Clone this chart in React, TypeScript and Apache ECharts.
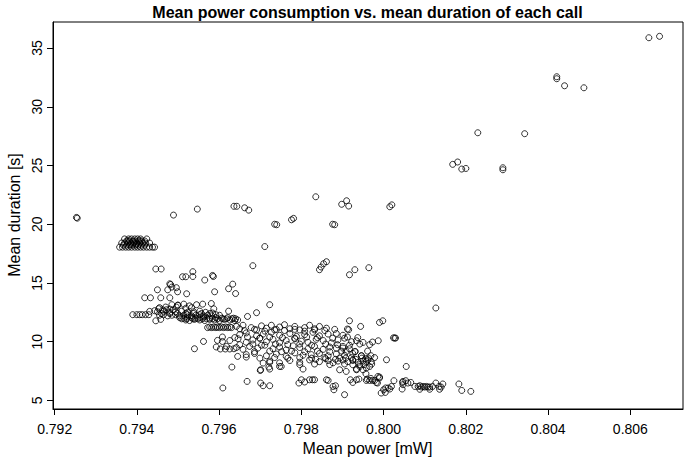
import React, { useEffect, useRef } from "react";
import * as echarts from "echarts";

type P = [number, number];

const xTicks = [0.792, 0.794, 0.796, 0.798, 0.8, 0.802, 0.804, 0.806];
const yTicks = [5, 10, 15, 20, 25, 30, 35];

const outliers: P[] = [
  [0.79253, 20.58], [0.79255, 20.52], [0.79489, 20.78], [0.79547, 21.29],
  [0.79636, 21.53], [0.79643, 21.53], [0.79662, 21.4], [0.79672, 21.2],
  [0.79735, 20.0], [0.7974, 19.96], [0.79776, 20.38], [0.79781, 20.5],
  [0.79835, 22.34], [0.79876, 20.0], [0.79881, 19.96],
  [0.79898, 21.7], [0.7991, 22.0], [0.79915, 21.55],
  [0.80015, 21.49], [0.8002, 21.65],
  [0.79682, 16.47], [0.79711, 18.1], [0.79723, 13.15],
  [0.79844, 16.13], [0.79848, 16.36], [0.79854, 16.64], [0.79861, 16.81],
  [0.79917, 15.7], [0.7993, 16.13], [0.79964, 16.3], [0.80127, 12.87],
];

const rightTail: P[] = [
  [0.80168, 25.1], [0.8018, 25.3], [0.8019, 24.7], [0.802, 24.75],
  [0.80229, 27.79], [0.8029, 24.81], [0.8029, 24.64], [0.80343, 27.71],
  [0.80421, 32.56], [0.80421, 32.39], [0.8044, 31.79], [0.80487, 31.62],
  [0.80645, 35.88], [0.80671, 36.0],
];

const cluster18: P[] = [
  [0.79358, 18.05], [0.79365, 18.05], [0.79373, 18.05], [0.7938, 18.05], [0.79387, 18.05],
  [0.79395, 18.05], [0.79402, 18.05], [0.79409, 18.05], [0.79416, 18.05], [0.79424, 18.05],
  [0.79431, 18.05], [0.79438, 18.05], [0.79443, 18.05],
  [0.79363, 18.4], [0.7937, 18.4], [0.79378, 18.4], [0.79385, 18.4], [0.79392, 18.4],
  [0.79399, 18.4], [0.79407, 18.4], [0.79414, 18.4], [0.79421, 18.4], [0.79431, 18.4],
  [0.7937, 18.75], [0.7938, 18.75], [0.79387, 18.75], [0.79395, 18.75], [0.79402, 18.75],
  [0.79409, 18.75], [0.79424, 18.75],
  [0.79385, 18.25], [0.79392, 18.55], [0.79399, 18.3], [0.79407, 18.6], [0.79378, 18.6],
  [0.79367, 18.22], [0.79375, 18.22], [0.79382, 18.22], [0.7939, 18.22], [0.79397, 18.22],
  [0.79404, 18.22], [0.79411, 18.22], [0.79419, 18.22],
  [0.79375, 18.58], [0.79382, 18.58], [0.7939, 18.58], [0.79397, 18.58], [0.79404, 18.58],
  [0.79412, 18.58], [0.79419, 18.58],
];

const leftScatter: P[] = [
  [0.79446, 16.19], [0.79459, 16.19], [0.79536, 15.96], [0.79536, 15.55],
  [0.79511, 15.53], [0.79519, 15.53], [0.79584, 15.64], [0.79586, 15.55],
  [0.79565, 15.25], [0.79633, 14.9], [0.79623, 14.51], [0.7964, 14.1],
  [0.79589, 14.25], [0.7948, 14.93], [0.79482, 14.87], [0.7945, 14.42],
  [0.79475, 14.42], [0.79485, 14.65], [0.79496, 14.6], [0.79499, 14.25],
  [0.79521, 14.08],
  [0.79419, 13.74], [0.79433, 13.74], [0.79458, 13.74], [0.7948, 13.74],
  [0.79443, 12.64],
  [0.7939, 12.3], [0.794, 12.3], [0.79407, 12.3], [0.79413, 12.3], [0.79421, 12.3], [0.79429, 12.3],
  [0.79463, 12.72], [0.79472, 12.72], [0.7948, 12.78], [0.79488, 12.72], [0.79496, 12.95], [0.795, 13.12],
  [0.79431, 12.58], [0.79453, 12.81], [0.79446, 11.78], [0.79458, 11.9],
];

const leftBand: P[] = [
  [0.79485, 13.15], [0.79499, 13.1], [0.79514, 13.2], [0.79528, 13.05], [0.79545, 13.15], [0.7956, 13.2], [0.79581, 13.25],
  [0.79455, 12.9], [0.7947, 12.95], [0.79519, 12.85], [0.79533, 12.9], [0.79587, 12.8],
  [0.7945, 12.55], [0.79465, 12.6], [0.7948, 12.5], [0.79494, 12.55], [0.79509, 12.6],
  [0.79523, 12.5], [0.79538, 12.55], [0.79553, 12.6], [0.79567, 12.5], [0.79623, 12.6],
  [0.7946, 12.4], [0.7948, 12.4], [0.79499, 12.4], [0.79519, 12.4], [0.79538, 12.4], [0.79557, 12.4], [0.79577, 12.4],
  [0.79455, 12.25], [0.79465, 12.3], [0.79475, 12.2], [0.79485, 12.25], [0.79494, 12.3],
  [0.79504, 12.2], [0.79514, 12.25], [0.79523, 12.3], [0.79533, 12.2], [0.79543, 12.25],
  [0.79553, 12.3], [0.79562, 12.2], [0.79572, 12.25], [0.79582, 12.2], [0.79592, 12.3], [0.79601, 12.25],
  [0.79504, 12.05], [0.79514, 12.0], [0.79523, 12.1], [0.79533, 12.05], [0.79543, 12.0], [0.79553, 12.05],
  [0.79562, 12.1], [0.79577, 12.0], [0.79592, 12.05], [0.79606, 12.0], [0.79621, 12.05], [0.79635, 12.0],
  [0.79509, 11.95], [0.79521, 11.95], [0.79536, 11.95], [0.79548, 11.95], [0.7956, 11.95], [0.7957, 11.95],
  [0.79584, 11.95], [0.79596, 11.95], [0.79609, 11.95], [0.79618, 11.95], [0.79631, 11.95], [0.7964, 11.95],
  [0.79519, 11.85], [0.79528, 11.8], [0.7954, 11.9], [0.79553, 11.85], [0.79565, 11.8], [0.79577, 11.9],
  [0.79589, 11.85], [0.79601, 11.8], [0.79613, 11.9], [0.79626, 11.85], [0.79638, 11.8], [0.79645, 11.85],
  [0.79572, 11.2], [0.79582, 11.2], [0.79592, 11.2], [0.79601, 11.2], [0.79611, 11.2], [0.79621, 11.2], [0.7963, 11.2],
  [0.79577, 11.25], [0.79587, 11.25], [0.79596, 11.25], [0.79606, 11.25], [0.79616, 11.25], [0.79626, 11.25],
  [0.79669, 12.15], [0.79584, 12.44], [0.79691, 12.47],
];

const core: P[] = [
  [0.79642, 11.3], [0.7965, 11.1], [0.79658, 11.4], [0.79678, 11.2], [0.79691, 11.0], [0.79703, 11.35],
  [0.79715, 11.15], [0.79727, 11.4], [0.79739, 11.05], [0.79747, 11.25], [0.79759, 11.45], [0.79772, 11.1],
  [0.79784, 11.3], [0.79796, 11.0], [0.79808, 11.2], [0.7982, 11.4], [0.79832, 11.1], [0.79844, 11.3], [0.79861, 11.15],
  [0.79662, 10.95], [0.79686, 11.05], [0.79711, 10.9], [0.79735, 11.0], [0.79759, 10.95], [0.79784, 11.05],
  [0.79808, 10.9], [0.79832, 11.0], [0.79857, 10.95], [0.79881, 11.05],
  [0.7965, 10.6], [0.79666, 10.75], [0.79691, 10.5], [0.79707, 10.65], [0.79727, 10.8], [0.79747, 10.55],
  [0.79772, 10.7], [0.79788, 10.45], [0.79808, 10.6], [0.79828, 10.8], [0.79844, 10.5], [0.79865, 10.65],
  [0.79885, 10.7], [0.79901, 10.55],
  [0.79638, 10.35], [0.79669, 10.4], [0.79699, 10.3], [0.79723, 10.4], [0.79754, 10.35], [0.79784, 10.3],
  [0.79813, 10.4], [0.79839, 10.35], [0.79876, 10.3], [0.79912, 10.4], [0.79937, 10.35],
  [0.79626, 10.1], [0.79646, 10.25], [0.79666, 9.95], [0.79682, 10.15], [0.79699, 10.3], [0.79715, 10.0],
  [0.79731, 10.2], [0.79747, 9.9], [0.79763, 10.1], [0.79784, 10.25], [0.798, 10.05], [0.79816, 9.95],
  [0.79836, 10.2], [0.79853, 10.1], [0.79873, 9.9], [0.79889, 10.15], [0.79905, 10.3], [0.79922, 10.0],
  [0.7965, 9.75], [0.79682, 9.8], [0.79703, 9.7], [0.79737, 9.8], [0.79767, 9.75], [0.79796, 9.8],
  [0.79825, 9.7], [0.79859, 9.8], [0.79888, 9.75], [0.79917, 9.7], [0.79942, 9.8], [0.79966, 9.75],
  [0.79642, 9.5], [0.79658, 9.35], [0.79674, 9.6], [0.79694, 9.45], [0.79711, 9.7], [0.79731, 9.4],
  [0.79747, 9.55], [0.79763, 9.3], [0.7978, 9.65], [0.79796, 9.5], [0.79816, 9.4], [0.79832, 9.6],
  [0.79853, 9.35], [0.79869, 9.55], [0.79885, 9.45], [0.79901, 9.6], [0.79917, 9.4],
  [0.79686, 9.15], [0.79723, 9.2], [0.79752, 9.15], [0.79776, 9.2], [0.79808, 9.15], [0.79839, 9.2],
  [0.79869, 9.15], [0.79898, 9.2], [0.7993, 9.15], [0.79961, 9.2],
  [0.79666, 8.9], [0.79686, 9.0], [0.79715, 8.8], [0.79739, 8.95], [0.79763, 8.75], [0.79784, 9.05],
  [0.79804, 8.85], [0.79824, 8.9], [0.79844, 9.0], [0.79865, 8.8], [0.79885, 8.95], [0.79905, 8.85],
  [0.79925, 9.0], [0.79946, 8.8],
  [0.79699, 8.6], [0.79735, 8.65], [0.79767, 8.6], [0.79796, 8.65], [0.79825, 8.6], [0.79857, 8.65],
  [0.79893, 8.6], [0.79922, 8.65], [0.79947, 8.6], [0.79978, 8.65],
  [0.79723, 8.35], [0.79747, 8.2], [0.79772, 8.4], [0.79796, 8.25], [0.7982, 8.45], [0.79844, 8.3],
  [0.79865, 8.4], [0.79877, 8.2], [0.79889, 8.35], [0.79901, 8.45], [0.79913, 8.3], [0.79925, 8.4],
  [0.79938, 8.25], [0.7995, 8.35], [0.79962, 8.45], [0.7997, 8.3],
  [0.79835, 8.5], [0.79859, 8.55], [0.79883, 8.5], [0.79908, 8.6], [0.79932, 8.5], [0.79956, 8.55],
  [0.79796, 8.05], [0.79832, 8.1], [0.79869, 8.05], [0.79905, 8.1], [0.79942, 8.05], [0.79971, 8.1],
];

const coreEdges: P[] = [
  [0.79751, 7.89], [0.79804, 7.67], [0.79893, 7.61], [0.79909, 7.47], [0.79934, 7.61], [0.79925, 8.04],
  [0.79942, 7.89], [0.79958, 8.32], [0.79958, 7.76], [0.7995, 7.61], [0.79969, 8.81], [0.79957, 7.27],
  [0.79969, 6.87], [0.79986, 7.04], [0.7999, 6.99], [0.797, 7.55], [0.79721, 7.84], [0.79631, 7.84],
  [0.79645, 8.75], [0.79666, 8.69], [0.79707, 8.18], [0.79723, 8.23], [0.79747, 7.89], [0.79701, 7.61], [0.79723, 7.67],
  [0.79917, 11.78], [0.79944, 11.3], [0.7999, 11.64], [0.79998, 11.78], [0.79912, 11.08], [0.79915, 11.02],
  [0.80024, 10.33], [0.80027, 10.31], [0.80029, 10.31], [0.79934, 10.08], [0.7995, 9.94], [0.79973, 9.97],
  [0.79987, 10.08], [0.80007, 8.46], [0.80055, 7.89], [0.79901, 9.46], [0.79909, 9.17], [0.79931, 9.17],
  [0.79946, 8.81], [0.79963, 8.61], [0.79925, 8.46], [0.79952, 8.04], [0.79966, 7.89], [0.79934, 7.67],
  [0.79562, 10.02], [0.7954, 9.4], [0.79593, 9.55], [0.79603, 9.38], [0.79615, 9.38], [0.79626, 9.38],
  [0.79636, 9.4], [0.79608, 10.02], [0.79608, 10.4], [0.79596, 10.11], [0.79618, 9.6],
  [0.79609, 6.06], [0.79668, 6.62], [0.79701, 6.48], [0.79707, 6.25], [0.79723, 6.25],
];

const lowerRow: P[] = [
  [0.79794, 6.48], [0.79808, 6.57], [0.798, 6.76], [0.7982, 6.76], [0.79827, 6.76], [0.79832, 6.76],
  [0.79861, 6.76], [0.79865, 6.7], [0.79877, 6.19], [0.79883, 6.25], [0.79879, 5.91], [0.79905, 5.49],
  [0.79919, 6.76], [0.79925, 6.53], [0.79934, 6.76], [0.7994, 6.82], [0.79958, 6.7], [0.7996, 6.82],
  [0.79966, 6.7], [0.79973, 6.7], [0.79978, 6.7], [0.79982, 6.53], [0.79985, 6.48], [0.7999, 6.91],
  [0.79994, 5.63], [0.8, 5.91], [0.80004, 5.68], [0.80005, 6.06], [0.80011, 6.06], [0.80015, 5.97],
  [0.80019, 6.19], [0.80025, 6.68], [0.80046, 6.53], [0.80047, 6.62], [0.80047, 6.34], [0.80054, 6.68],
  [0.80059, 6.48], [0.80066, 6.53], [0.80076, 6.19], [0.80084, 6.19], [0.80088, 6.25], [0.80092, 6.14],
  [0.80096, 6.19], [0.801, 6.14], [0.80104, 6.19], [0.80108, 6.14], [0.80112, 6.14], [0.80119, 6.19],
  [0.80127, 6.48], [0.80135, 6.19], [0.8014, 6.14], [0.80144, 6.4], [0.80045, 5.97], [0.80088, 5.95],
  [0.80112, 5.95], [0.80136, 5.95], [0.80183, 6.4], [0.8019, 5.85], [0.80212, 5.77],
];

const allPoints: P[] = [
  ...outliers, ...rightTail, ...cluster18, ...leftScatter, ...leftBand, ...core, ...coreEdges, ...lowerRow,
];

const FONT = "'Liberation Sans', Arial, Helvetica, sans-serif";

export default function App() {
  const ref = useRef<HTMLDivElement>(null);
  useEffect(() => {
    if (!ref.current) return;
    const chart = echarts.init(ref.current, undefined, { renderer: "svg" });
    chart.setOption({
      animation: false,
      backgroundColor: "#fff",
      grid: {
        left: 53, right: 2, top: 22, bottom: 54,
        show: true, borderColor: "#000", borderWidth: 1,
        containLabel: false, outerBoundsMode: "none",
      },
      xAxis: {
        type: "value",
        min: 0.79196, max: 0.80728,
        axisLine: { show: true, onZero: false, lineStyle: { color: "#000", width: 1 } },
        axisTick: { show: true, inside: false, length: 6, customValues: xTicks, lineStyle: { color: "#000" } },
        axisLabel: {
          customValues: xTicks, margin: 13, color: "#000", fontSize: 14, fontFamily: FONT,
          formatter: (v: number) => v.toFixed(3),
        },
        splitLine: { show: false },
      },
      yAxis: {
        type: "value",
        min: 4.27, max: 37.22,
        axisLine: { show: true, onZero: false, lineStyle: { color: "#000", width: 1 } },
        axisTick: { show: true, inside: false, length: 6, customValues: yTicks, lineStyle: { color: "#000" } },
        axisLabel: {
          customValues: yTicks, rotate: 90, margin: 9, color: "#000", fontSize: 14, fontFamily: FONT,
          formatter: (v: number) => String(v),
        },
        splitLine: { show: false },
      },
      graphic: [
        {
          type: "text", x: 367.5, y: 12,
          style: { text: "Mean power consumption vs. mean duration of each call", font: `bold 16px ${FONT}`, fill: "#000", textAlign: "center", textVerticalAlign: "middle" },
        },
        {
          type: "text", x: 367.5, y: 448,
          style: { text: "Mean power [mW]", font: `16px ${FONT}`, fill: "#000", textAlign: "center", textVerticalAlign: "middle" },
        },
        {
          type: "text", x: 14, y: 215, rotation: Math.PI / 2,
          style: { text: "Mean duration [s]", font: `16px ${FONT}`, fill: "#000", textAlign: "center", textVerticalAlign: "middle" },
        },
      ],
      series: [
        {
          type: "scatter",
          data: allPoints,
          symbol: "circle",
          symbolSize: 6,
          itemStyle: { color: "rgba(0,0,0,0)", borderColor: "#000", borderWidth: 1 },
          emphasis: { disabled: true },
        },
      ],
    });
    return () => chart.dispose();
  }, []);
  return <div ref={ref} style={{ position: "fixed", left: 0, top: 0, width: 685, height: 463 }} />;
}
